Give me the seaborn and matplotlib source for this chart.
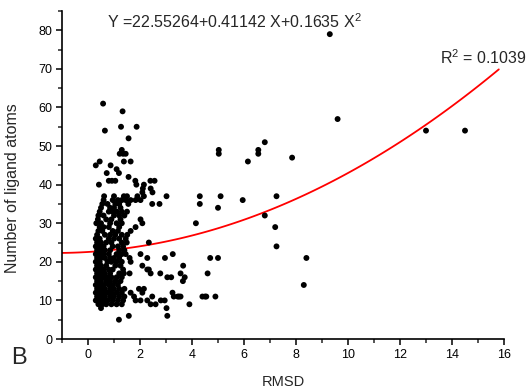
import numpy as np
import pandas as pd
import matplotlib
matplotlib.use("Agg")
import matplotlib.pyplot as plt
import seaborn as sns
from matplotlib.ticker import MultipleLocator

# Low-RMSD poses (dense cluster), one line per ligand-atom count
cluster_rmsd = [
    0.58,
    1.33,
    1.27, 1.87,
    0.65,
    1.56,
    1.30,
    1.22, 1.35, 1.45,
    0.45, 1.38, 1.64,
    0.30, 0.87,
    1.10,
    0.72, 1.19,
    1.56,
    0.80, 0.92, 1.05, 1.82, 2.40, 2.56,
    0.42, 1.86, 2.15,
    2.11, 2.41,
    2.09, 2.48,
    0.62, 1.00, 1.38, 1.50, 1.90, 2.15,
    0.60, 0.95, 1.15, 1.30, 1.45, 1.64, 1.83, 2.02,
    0.55, 0.75, 1.05, 1.20, 1.55, 2.47,
    0.50, 0.85, 1.00, 1.25,
    0.45, 0.80, 0.95, 1.10, 1.30, 1.50,
    0.40, 0.60, 1.00, 1.20, 1.40,
    0.38, 0.70, 0.90, 1.25, 2.02,
    0.32, 0.50, 0.85, 1.10, 1.30, 2.09,
    0.45, 0.60, 0.80, 1.20, 1.83,
    0.40, 0.55, 0.95, 1.15, 1.64,
    0.35, 0.65, 0.85, 1.05, 1.30, 1.51,
    0.30, 0.45, 0.80, 1.00, 1.20, 1.45,
    0.35, 0.50, 0.70, 0.90, 1.30, 1.49, 2.34,
    0.30, 0.45, 0.60, 0.95, 1.15, 1.35,
    0.35, 0.50, 0.65, 0.85, 1.20, 1.40,
    0.30, 0.45, 0.60, 0.80, 1.10, 1.30, 1.45, 2.02,
    0.35, 0.50, 0.65, 0.85, 1.00, 1.20, 1.60, 2.28,
    0.30, 0.45, 0.75, 0.90, 1.10, 1.30, 1.64,
    0.35, 0.50, 0.70, 1.05, 1.25, 2.09,
    0.30, 0.45, 0.60, 0.80, 0.95, 1.35, 2.28, 2.34,
    0.35, 0.50, 0.65, 0.85, 1.20, 1.38, 1.60, 2.41,
    0.30, 0.45, 0.60, 0.75, 0.90, 1.10, 1.30,
    0.35, 0.50, 0.70, 0.85, 1.05, 1.25,
    0.30, 0.45, 0.60, 0.80, 0.95, 1.15,
    0.35, 0.50, 0.65, 0.85, 1.00, 1.20, 1.40, 1.96, 2.15,
    0.30, 0.45, 0.60, 0.75, 0.90, 1.10, 1.30, 1.64, 2.09,
    0.35, 0.50, 0.65, 0.85, 1.00, 1.20, 1.40, 1.77, 2.47,
    0.30, 0.45, 0.60, 0.75, 0.95, 1.15, 1.35, 1.83, 2.02, 2.28,
    0.40, 0.55, 0.70, 0.90, 1.10, 1.30, 2.41, 2.60,
    0.50,
    1.57,
    1.19,
]
cluster_atoms = [
    61,
    59,
    55, 55,
    54,
    52,
    49,
    48, 48, 48,
    46, 46, 46,
    45, 45,
    44,
    43, 43,
    42,
    41, 41, 41, 41, 41, 41,
    40, 40, 40,
    39, 39,
    38, 38,
    37, 37, 37, 37, 37, 37,
    36, 36, 36, 36, 36, 36, 36, 36,
    35, 35, 35, 35, 35, 35,
    34, 34, 34, 34,
    33, 33, 33, 33, 33, 33,
    32, 32, 32, 32, 32,
    31, 31, 31, 31, 31,
    30, 30, 30, 30, 30, 30,
    29, 29, 29, 29, 29,
    28, 28, 28, 28, 28,
    27, 27, 27, 27, 27, 27,
    26, 26, 26, 26, 26, 26,
    25, 25, 25, 25, 25, 25, 25,
    24, 24, 24, 24, 24, 24,
    23, 23, 23, 23, 23, 23,
    22, 22, 22, 22, 22, 22, 22, 22,
    21, 21, 21, 21, 21, 21, 21, 21,
    20, 20, 20, 20, 20, 20, 20,
    19, 19, 19, 19, 19, 19,
    18, 18, 18, 18, 18, 18, 18, 18,
    17, 17, 17, 17, 17, 17, 17, 17,
    16, 16, 16, 16, 16, 16, 16,
    15, 15, 15, 15, 15, 15,
    14, 14, 14, 14, 14, 14,
    13, 13, 13, 13, 13, 13, 13, 13, 13,
    12, 12, 12, 12, 12, 12, 12, 12, 12,
    11, 11, 11, 11, 11, 11, 11, 11, 11,
    10, 10, 10, 10, 10, 10, 10, 10, 10, 10,
    9, 9, 9, 9, 9, 9, 9, 9,
    8,
    6,
    5,
]

# Higher-RMSD poses
spread_rmsd = [
    2.75, 3.02, 2.78, 2.96, 3.26, 3.05, 3.20, 3.56, 3.72, 3.65, 3.66,
    2.80, 2.95, 3.25, 3.30, 3.45, 3.50, 3.56, 3.02, 3.05, 3.90,
    4.15, 4.30, 4.30, 5.10, 5.00, 5.95, 6.80, 7.25, 7.20, 7.25,
    4.70, 5.00, 4.60, 4.40, 4.50, 4.55, 4.90,
    5.03, 5.03, 6.55, 6.55, 6.15, 6.80, 7.85,
    8.40, 8.30, 9.30, 9.60, 13.00, 14.50,
]
spread_atoms = [
    35, 37, 17, 21, 22, 16, 16, 17, 16, 15, 19,
    10, 10, 12, 11, 11, 11, 11, 8, 6, 9,
    30, 37, 35, 37, 34, 36, 32, 37, 29, 24,
    21, 21, 17, 11, 11, 11, 11,
    48, 49, 48, 49, 46, 51, 47,
    21, 14, 79, 57, 54, 54,
]

# Quadratic fit: Y = b0 + b1 X + b2 X^2
fit_coef = [22.55264, 0.41142, 0.1635]
r_squared = 0.1039
fit_range = [-1.0, 15.8]

points = pd.DataFrame({
    "RMSD": cluster_rmsd + spread_rmsd,
    "atoms": cluster_atoms + spread_atoms,
})
fx = np.linspace(fit_range[0], fit_range[1], 120)
fit = pd.DataFrame({
    "RMSD": fx,
    "atoms": fit_coef[0] + fit_coef[1] * fx + fit_coef[2] * fx ** 2,
})

sns.set_style("ticks")
plt.rcParams["font.family"] = ["Liberation Sans", "DejaVu Sans"]
plt.rcParams["mathtext.fontset"] = "custom"
plt.rcParams["mathtext.rm"] = "Liberation Sans"
plt.rcParams["mathtext.it"] = "Liberation Sans"

fig = plt.figure(figsize=(5.27, 3.92), dpi=100)
ax = fig.add_axes([62 / 527, 1 - 339 / 392, (504 - 62) / 527, (339 - 11) / 392])

sns.scatterplot(data=points, x="RMSD", y="atoms", ax=ax, color="black",
                s=18, edgecolor="none", linewidth=0, zorder=3)
sns.lineplot(data=fit, x="RMSD", y="atoms", ax=ax, color="#ff0000",
             linewidth=1.3, zorder=2)

ax.set_xlim(-1, 16)
ax.set_ylim(0, 85)
ax.xaxis.set_major_locator(MultipleLocator(2))
ax.xaxis.set_minor_locator(MultipleLocator(1))
ax.yaxis.set_major_locator(MultipleLocator(10))
ax.yaxis.set_minor_locator(MultipleLocator(5))
ax.tick_params(which="major", direction="out", length=4, width=1.1,
               labelsize=9, colors="black", pad=3)
ax.tick_params(which="minor", direction="out", length=3, width=1.1)
for side in ("top", "right"):
    ax.spines[side].set_visible(False)
for side in ("left", "bottom"):
    ax.spines[side].set_linewidth(1.2)
    ax.spines[side].set_color("black")

ax.set_xlabel("RMSD", fontsize=10.5, labelpad=10)
ax.set_ylabel("Number of ligand atoms", fontsize=11.5)
ax.yaxis.set_label_coords(-0.095, 0.46)

fig.text(107 / 527, 1 - 22 / 392,
         "Y =%.5f+%.5f X+%.4f X$^{2}$" % tuple(fit_coef),
         fontsize=11.5, va="center", ha="left")
fig.text(440 / 527, 1 - 58 / 392, "R$^{2}$ = %.4f" % r_squared,
         fontsize=11.5, va="center", ha="left")
fig.text(11 / 527, 1 - 358 / 392, "B", fontsize=17, va="center", ha="left")

fig.savefig("out.png", dpi=100)
